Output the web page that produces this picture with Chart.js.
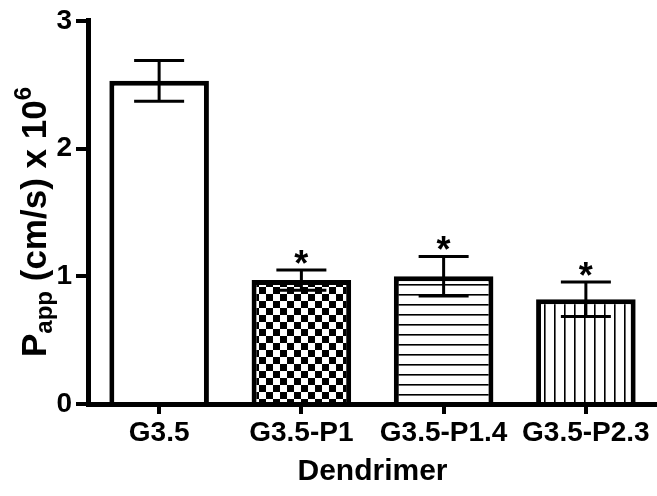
<!DOCTYPE html>
<html>
<head>
<meta charset="utf-8">
<script src="https://cdn.jsdelivr.net/npm/chart.js@4/dist/chart.umd.min.js"></script>
<style>
  html, body { margin: 0; padding: 0; background: #ffffff; }
  #wrap { width: 657px; height: 496px; }
</style>
</head>
<body>
<div id="wrap"><canvas id="c" width="657" height="496"></canvas></div>
<script>
// Apparent permeability of each dendrimer (mean ± SD, cm/s x 10^6)
const categories = ['G3.5', 'G3.5-P1', 'G3.5-P1.4', 'G3.5-P2.3'];
const meanPapp = [2.53, 0.97, 1.00, 0.82];
const sdPapp = [0.16, 0.08, 0.155, 0.135];
const significance = ['', '*', '*', '*'];
const yTicks = [0, 1, 2, 3];
const fillKinds = ['plain', 'checker', 'hlines', 'vlines'];

const FONT = "'Liberation Sans', Arial, Helvetica, sans-serif";
const canvas = document.getElementById('c');
const ctx = canvas.getContext('2d');

// Monochrome hatch fills for the bars
function makeFill(kind) {
  if (kind === 'plain') return '#ffffff';
  const t = document.createElement('canvas');
  const g = t.getContext('2d');
  if (kind === 'checker') {
    t.width = 14; t.height = 14;
    g.fillStyle = '#fff'; g.fillRect(0, 0, 14, 14);
    g.fillStyle = '#000'; g.fillRect(0, 0, 7, 7); g.fillRect(7, 7, 7, 7);
  } else if (kind === 'hlines') {
    t.width = 10; t.height = 10;
    g.fillStyle = '#fff'; g.fillRect(0, 0, 10, 10);
    g.fillStyle = '#000'; g.fillRect(0, 4, 10, 1.6);
  } else if (kind === 'vlines') {
    t.width = 10; t.height = 10;
    g.fillStyle = '#fff'; g.fillRect(0, 0, 10, 10);
    g.fillStyle = '#000'; g.fillRect(4, 0, 1.6, 10);
  }
  return ctx.createPattern(t, 'repeat');
}

// SD whiskers and significance marks
const errorBars = {
  id: 'errorBars',
  afterDatasetsDraw(chart) {
    const meta = chart.getDatasetMeta(0);
    const y = chart.scales.y;
    const c = chart.ctx;
    c.save();
    c.strokeStyle = '#000';
    c.lineWidth = 3;
    meta.data.forEach((bar, i) => {
      const x = bar.x;
      const hi = y.getPixelForValue(meanPapp[i] + sdPapp[i]);
      const lo = y.getPixelForValue(meanPapp[i] - sdPapp[i]);
      c.beginPath();
      c.moveTo(x, hi); c.lineTo(x, lo);
      c.moveTo(x - 25, hi); c.lineTo(x + 25, hi);
      c.moveTo(x - 25, lo); c.lineTo(x + 25, lo);
      c.stroke();
      if (significance[i]) {
        c.fillStyle = '#000';
        c.font = 'bold 36px ' + FONT;
        c.textAlign = 'center';
        c.textBaseline = 'alphabetic';
        c.fillText(significance[i], x, hi + 6);
      }
    });
    c.restore();
  }
};

// Y-axis title with subscript and superscript
const yTitle = {
  id: 'yTitle',
  afterDraw(chart) {
    const c = chart.ctx;
    const parts = [
      { t: 'P', size: 35, shift: 0 },
      { t: 'app', size: 24, shift: 6 },
      { t: ' (cm/s) x 10', size: 35, shift: 0 },
      { t: '6', size: 24, shift: -15 }
    ];
    c.save();
    c.fillStyle = '#000';
    c.textBaseline = 'alphabetic';
    c.textAlign = 'left';
    let total = 0;
    parts.forEach(p => { c.font = 'bold ' + p.size + 'px ' + FONT; p.w = c.measureText(p.t).width; total += p.w; });
    const cy = 222, baseX = 46;
    c.translate(baseX, cy);
    c.rotate(-Math.PI / 2);
    let x = -total / 2;
    parts.forEach(p => {
      c.font = 'bold ' + p.size + 'px ' + FONT;
      c.fillText(p.t, x, p.shift);
      x += p.w;
    });
    c.restore();
  }
};

new Chart(ctx, {
  type: 'bar',
  data: {
    labels: categories,
    datasets: [{
      data: meanPapp,
      backgroundColor: fillKinds.map(makeFill),
      borderColor: '#000',
      borderWidth: 5,
      barPercentage: 0.7,
      categoryPercentage: 1.0
    }]
  },
  options: {
    responsive: false,
    animation: false,
    layout: { padding: { top: 20, right: -3, left: 0, bottom: 0 } },
    plugins: { legend: { display: false }, tooltip: { enabled: false } },
    scales: {
      x: {
        z: 1,
        grid: { display: true, drawOnChartArea: false, offset: false, tickLength: 10, lineWidth: 4, color: '#000' },
        border: { display: true, width: 5, color: '#000' },
        ticks: { color: '#000', font: { family: FONT, size: 28, weight: 'bold' }, padding: 2, maxRotation: 0 },
        title: { display: true, text: 'Dendrimer', color: '#000', font: { family: FONT, size: 30, weight: 'bold' }, padding: { top: 0, bottom: 6 } },
        afterFit(s) { s.height = 92; }
      },
      y: {
        min: 0, max: 3,
        afterBuildTicks(s) { s.ticks = yTicks.map(v => ({ value: v })); },
        grid: { display: true, drawOnChartArea: false, tickLength: 12, lineWidth: 4, color: '#000' },
        border: { display: true, width: 5, color: '#000' },
        ticks: { color: '#000', font: { family: FONT, size: 28, weight: 'bold' }, padding: 4 },
        afterFit(s) { s.width = 88; }
      }
    }
  },
  plugins: [errorBars, yTitle]
});
</script>
</body>
</html>
